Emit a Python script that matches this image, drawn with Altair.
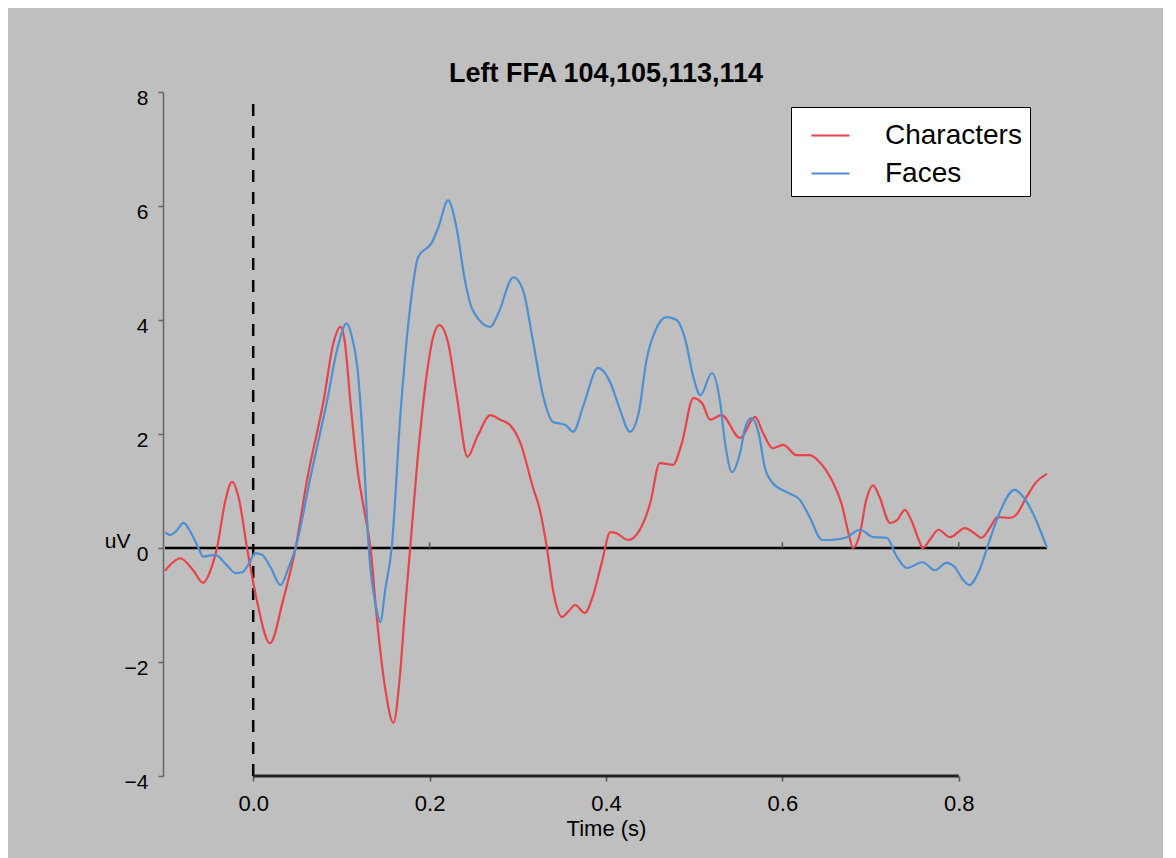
import altair as alt
import pandas as pd

# ---- data ----
char_t = [-0.100, -0.090, -0.083, -0.068, -0.057, -0.047, -0.041, -0.032, -0.024, -0.016, -0.007,
          0.004, 0.019, 0.034, 0.048, 0.061, 0.080, 0.091, 0.099, 0.104, 0.110, 0.118, 0.126, 0.133,
          0.140, 0.150, 0.159, 0.166, 0.172, 0.178, 0.186, 0.197, 0.204, 0.211, 0.221, 0.231, 0.243,
          0.254, 0.269, 0.280, 0.291, 0.303, 0.317, 0.325, 0.333, 0.340, 0.350, 0.358, 0.365, 0.376,
          0.385, 0.395, 0.405, 0.412, 0.425, 0.438, 0.450, 0.461, 0.476, 0.486, 0.499, 0.509, 0.518,
          0.531, 0.552, 0.569, 0.578, 0.589, 0.601, 0.616, 0.631, 0.642, 0.657, 0.667, 0.675, 0.680,
          0.688, 0.695, 0.703, 0.710, 0.722, 0.730, 0.739, 0.746, 0.756, 0.759, 0.767, 0.777, 0.790,
          0.807, 0.820, 0.826, 0.835, 0.844, 0.858, 0.865, 0.877, 0.888, 0.900]
char_v = [-0.40, -0.24, -0.18, -0.39, -0.61, -0.33, 0.00, 0.80, 1.16, 0.85, 0.00,
          -0.91, -1.67, -0.91, 0.00, 1.19, 2.60, 3.60, 3.88, 3.60, 2.60, 1.40, 0.65, 0.00,
          -1.20, -2.50, -3.07, -2.30, -1.10, 0.00, 1.49, 3.07, 3.70, 3.91, 3.60, 2.65, 1.60,
          1.95, 2.33, 2.25, 2.16, 1.84, 1.07, 0.67, 0.00, -0.74, -1.21, -1.10, -1.00, -1.14,
          -0.85, -0.27, 0.28, 0.26, 0.14, 0.31, 0.78, 1.49, 1.46, 1.84, 2.63, 2.54, 2.25,
          2.33, 1.93, 2.30, 2.02, 1.75, 1.81, 1.63, 1.63, 1.51, 1.16, 0.78, 0.26, 0.00,
          0.26, 0.84, 1.10, 0.90, 0.44, 0.49, 0.67, 0.49, 0.09, 0.00, 0.14, 0.32, 0.19,
          0.35, 0.23, 0.18, 0.35, 0.54, 0.53, 0.58, 0.90, 1.16, 1.30]

face_t = [-0.100, -0.094, -0.087, -0.079, -0.070, -0.062, -0.057, -0.043, -0.030, -0.020, -0.012,
          -0.004, 0.002, 0.010, 0.020, 0.031, 0.040, 0.048, 0.065, 0.084, 0.095, 0.106, 0.112, 0.118,
          0.125, 0.131, 0.140, 0.144, 0.150, 0.157, 0.167, 0.178, 0.187, 0.203, 0.210, 0.221, 0.231,
          0.240, 0.249, 0.269, 0.278, 0.295, 0.306, 0.317, 0.329, 0.340, 0.354, 0.363, 0.374, 0.391,
          0.405, 0.416, 0.427, 0.437, 0.446, 0.458, 0.469, 0.480, 0.490, 0.499, 0.507, 0.520, 0.529,
          0.535, 0.543, 0.552, 0.558, 0.565, 0.573, 0.580, 0.589, 0.605, 0.620, 0.631, 0.645, 0.654,
          0.673, 0.688, 0.703, 0.718, 0.730, 0.741, 0.759, 0.773, 0.786, 0.795, 0.805, 0.812, 0.822,
          0.835, 0.846, 0.863, 0.873, 0.884, 0.900]
face_v = [0.28, 0.23, 0.30, 0.44, 0.25, 0.00, -0.15, -0.12, -0.30, -0.44, -0.42,
          -0.25, -0.09, -0.12, -0.35, -0.65, -0.35, 0.00, 1.25, 2.60, 3.47, 3.94, 3.70, 3.18,
          1.72, 0.00, -1.09, -1.30, -0.70, 0.00, 2.36, 4.23, 5.10, 5.37, 5.63, 6.10, 5.58,
          4.70, 4.17, 3.88, 4.12, 4.75, 4.52, 3.65, 2.65, 2.21, 2.16, 2.04, 2.48, 3.16,
          2.90, 2.42, 2.04, 2.37, 3.30, 3.88, 4.05, 4.00, 3.65, 3.00, 2.68, 3.07, 2.60,
          1.84, 1.33, 1.67, 2.12, 2.28, 2.02, 1.42, 1.14, 0.98, 0.84, 0.54, 0.14, 0.14,
          0.19, 0.32, 0.19, 0.18, -0.16, -0.35, -0.25, -0.39, -0.26, -0.33, -0.56, -0.65, -0.44,
          0.14, 0.61, 1.02, 0.90, 0.61, 0.00]

series_names = ["Characters", "Faces"]
series_colors = ["#e8434a", "#4d8fd1"]
x_ticks = [0.0, 0.2, 0.4, 0.6, 0.8]
y_ticks = [-4, -2, 0, 2, 4, 6, 8]
x_domain = [-0.1, 0.9]
y_domain = [-4, 8]
onset_top = 7.86
zero_ticks = [0.2, 0.4, 0.6, 0.8]

FONT = "Liberation Sans"
BG = "#bfbfbf"

df = pd.concat([
    pd.DataFrame({"t": char_t, "v": char_v, "series": series_names[0]}),
    pd.DataFrame({"t": face_t, "v": face_v, "series": series_names[1]}),
])

xscale = alt.Scale(domain=x_domain, nice=False, zero=False)
yscale = alt.Scale(domain=y_domain, nice=False, zero=False)

lines = alt.Chart(df).mark_line(strokeWidth=2.2, interpolate="monotone").encode(
    x=alt.X("t:Q", scale=xscale,
            axis=alt.Axis(values=x_ticks, format=".1f", title="Time (s)", domain=False,
                          tickColor="#555555", tickSize=5, tickWidth=1.5,
                          labelFont=FONT, labelFontSize=22, labelColor="black", labelPadding=12,
                          titleFont=FONT, titleFontSize=22, titleFontWeight="normal",
                          titleColor="black", titlePadding=4, grid=False)),
    y=alt.Y("v:Q", scale=yscale,
            axis=alt.Axis(values=y_ticks, format="d", title="uV", offset=2,
                          domainColor="#666666", domainWidth=1.5,
                          tickColor="#666666", tickSize=5, tickWidth=1.5,
                          labelFont=FONT, labelFontSize=21, labelColor="black", labelPadding=10,
                          labelOffset=6,
                          titleFont=FONT, titleFontSize=21, titleFontWeight="normal",
                          titleColor="black", titleAngle=0, titleAlign="right",
                          titleBaseline="middle", titleX=-33, titleY=449, grid=False)),
    color=alt.Color("series:N",
                    scale=alt.Scale(domain=series_names, range=series_colors),
                    legend=alt.Legend(title=None, orient="none", legendX=626, legendY=15,
                                      symbolType="stroke", symbolSize=1444, symbolStrokeWidth=2.2,
                                      symbolOffset=11,
                                      labelFont=FONT, labelFontSize=28, labelColor="black",
                                      labelOffset=34, rowPadding=3, padding=8,
                                      fillColor="white", strokeColor="black", cornerRadius=0)),
)

zero_df = pd.DataFrame({"t0": [x_domain[0]], "t1": [x_domain[1]], "v": [0]})
zero_line = alt.Chart(zero_df).mark_rule(color="black", strokeWidth=2.5).encode(
    x=alt.X("t0:Q", scale=xscale), x2="t1:Q", y=alt.Y("v:Q", scale=yscale))

onset_df = pd.DataFrame({"t": [0.0], "v0": [y_domain[0]], "v1": [onset_top]})
onset = alt.Chart(onset_df).mark_rule(color="black", strokeWidth=2.5, strokeDash=[12, 10]).encode(
    x=alt.X("t:Q", scale=xscale), y=alt.Y("v0:Q", scale=yscale), y2="v1:Q")

xaxis_df = pd.DataFrame({"t0": [x_ticks[0]], "t1": [x_ticks[-1]], "v": [y_domain[0]]})
xaxis_line = alt.Chart(xaxis_df).mark_rule(color="#222222", strokeWidth=3).encode(
    x=alt.X("t0:Q", scale=xscale), x2="t1:Q", y=alt.Y("v:Q", scale=yscale))

zt_df = pd.DataFrame({"t": zero_ticks, "v0": [0] * len(zero_ticks), "v1": [0.1] * len(zero_ticks)})
zt = alt.Chart(zt_df).mark_rule(color="#555555", strokeWidth=1.5).encode(
    x=alt.X("t:Q", scale=xscale), y=alt.Y("v0:Q", scale=yscale), y2="v1:Q")

chart = alt.layer(zero_line, onset, xaxis_line, zt, lines).properties(
    width=882, height=684,
    background=BG,
    padding={"left": 157, "top": 84, "right": 116, "bottom": 82},
    autosize=alt.AutoSizeParams(type="none"),
    title=alt.TitleParams("Left FFA 104,105,113,114", font=FONT, fontSize=27, fontWeight="bold",
                          color="black", anchor="middle", offset=-1),
).configure_view(stroke=None)

chart.save("out.html", embed_options={"renderer": "svg", "actions": False})
